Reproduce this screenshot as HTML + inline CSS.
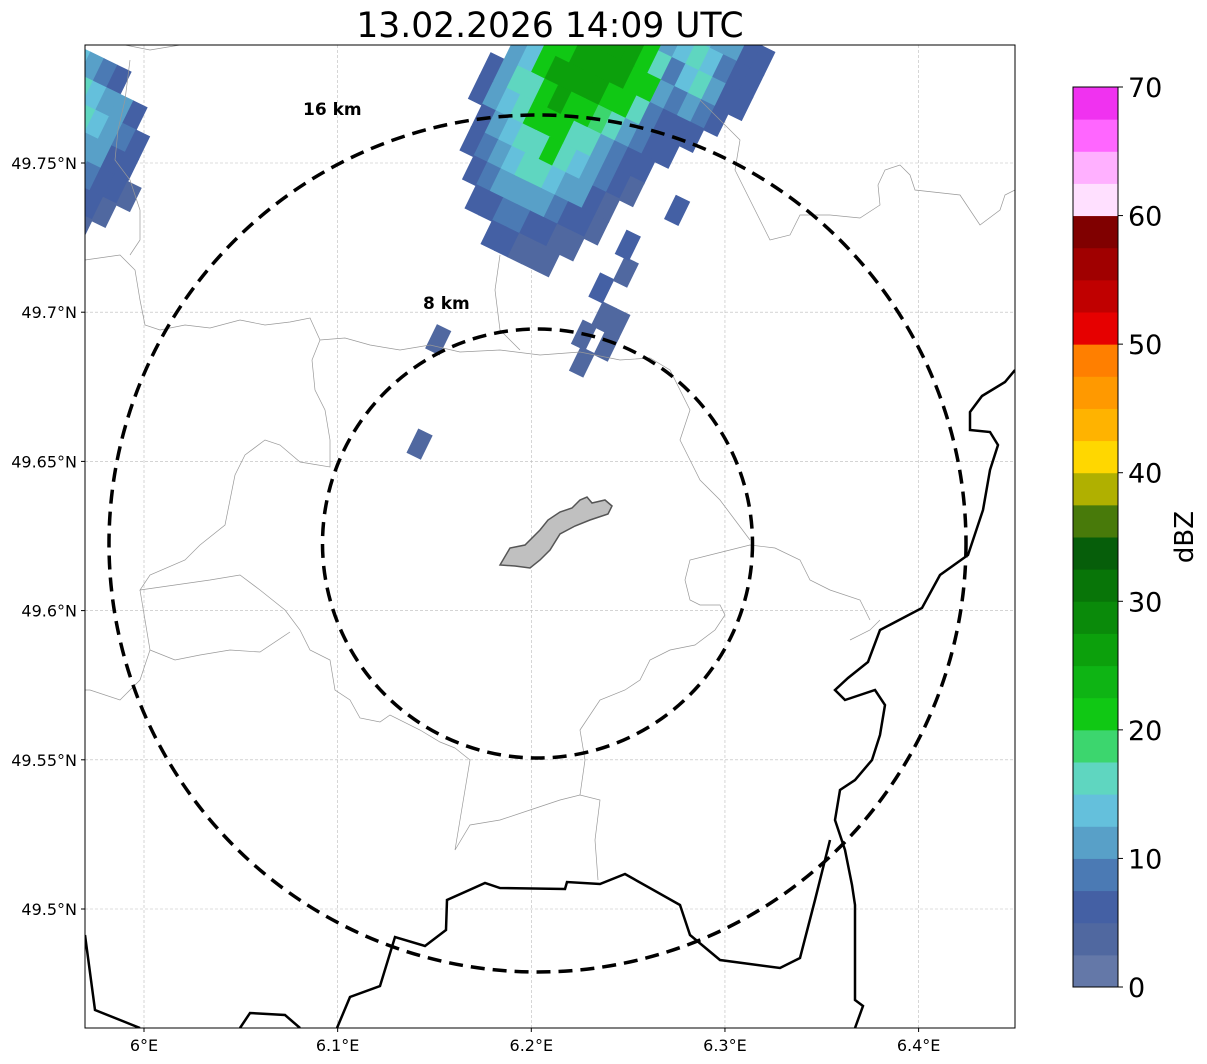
<!DOCTYPE html>
<html><head><meta charset="utf-8"><style>
body{margin:0;background:#fff;}
svg{display:block;font-family:"DejaVu Sans","Liberation Sans",sans-serif;}
</style></head><body>
<svg id="chart" width="1207" height="1064" viewBox="0 0 1207 1064">
<defs><clipPath id="mapclip"><rect x="85" y="45" width="930" height="983"/></clipPath></defs>
<text x="550" y="37" font-size="34.5" text-anchor="middle">13.02.2026 14:09 UTC</text>
<g id="grid"></g>
<g clip-path="url(#mapclip)">
<g id="radar"></g>
<g fill="none" stroke="#999" stroke-width="0.7">
<path d="M85,260 L120,255 L135,270 L140,300 L145,325 L160,330 L185,325 L210,328 L240,320 L265,325 L290,322 L310,318 L320,340 L345,338 L370,345 L400,350 L430,345 L460,352 L500,350 L540,355 L580,352 L620,360 L650,358 L670,370 L680,390 L690,410 L680,440 L690,460 L700,480 L720,500 L735,520 L750,540"/>
<path d="M320,340 L312,360 L315,390 L325,410 L330,440 L330,467 L300,462 L280,445 L265,440 L245,455 L235,475 L230,500 L225,525 L200,545 L185,560 L150,575 L140,590 L175,585 L210,580 L240,575 L260,590 L285,610 L300,630 L310,650 L330,660 L335,690 L350,700 L360,718 L380,722 L390,715 L420,730 L440,742 L455,748"/>
<path d="M140,590 L145,620 L150,650 L140,680 L120,700 L90,690 L85,690"/>
<path d="M150,650 L175,660 L200,655 L230,650 L260,652 L290,632"/>
<path d="M455,748 L470,760 L465,790 L460,820 L455,850 L470,825 L500,820 L530,810 L560,800 L580,795 L600,800 L595,840 L598,880"/>
<path d="M580,795 L585,760 L580,730 L600,700 L625,690 L640,680 L650,660 L670,650 L695,645 L715,630 L725,615 L720,605 L700,605 L690,600 L685,580 L690,560 L710,555 L730,550 L750,545 L775,548 L800,560 L810,580 L830,590 L860,600 L870,620"/>
<path d="M125,45 L150,50 L180,45 M130,60 L125,100 L118,130 L115,160 L130,180 L140,210 L140,240 L130,255"/>
<path d="M500,255 L495,290 L500,330 L520,350"/>
<path d="M700,100 L720,120 L740,140 L735,170 L750,200 L770,240 L790,235 L800,215 L830,215 L860,218 L880,205 L878,185 L885,170 L900,165 L910,175 L915,190 L960,195 L980,225 L1000,210 L1005,195 L1015,190"/>
<path d="M850,640 L870,630 L880,620"/>
</g>
<g fill="none" stroke="#000" stroke-width="2.5">
<path d="M1015,370 L1005,382 L982,396 L970,412 L970,430 L990,432 L998,445 L990,470 L983,510 L968,555 L940,575 L922,608 L880,630 L868,662 L848,678 L835,690 L845,700 L875,690 L885,705 L880,735 L872,760 L855,780 L840,790 L835,820 L845,850 L852,885 L855,905 L855,1000 L863,1006 L855,1028"/>
<path d="M85,935 L95,1010 L140,1028"/>
<path d="M240,1028 L250,1013 L285,1015 L300,1028"/>
<path d="M337,1028 L350,997 L380,986 L395,937 L425,946 L446,930 L447,900 L485,883 L500,888 L565,889 L567,882 L600,884 L625,874 L680,905 L690,935 L720,960 L780,968 L800,958 L815,900 L830,840"/>
</g>
</g>
<path d="M500,565 L510,548 L525,545 L540,530 L548,520 L560,512 L572,508 L580,500 L587,497 L592,503 L605,500 L612,506 L608,514 L590,520 L575,526 L560,534 L550,550 L540,560 L530,568 L515,566 Z" fill="#c0c0c0" stroke="#555" stroke-width="1.5"/>
<g fill="none" stroke="#000" stroke-width="3.5" stroke-dasharray="14,8">
<ellipse cx="537.5" cy="543.5" rx="215" ry="214.5"/>
<ellipse cx="537.5" cy="543.5" rx="428.5" ry="428.5"/>
</g>
<text x="303" y="115" font-size="17" font-weight="bold">16 km</text>
<text x="423" y="309" font-size="17" font-weight="bold">8 km</text>
<rect x="85" y="45" width="930" height="983" fill="none" stroke="#000" stroke-width="1"/>
<g id="axes" font-size="16"></g>
<g id="cbar"></g>
<text transform="translate(1193,537) rotate(-90)" font-size="26" text-anchor="middle">dBZ</text>
</svg>
<script>
const lonTicks=[6.0,6.1,6.2,6.3,6.4];
const lonLabels=["6°E","6.1°E","6.2°E","6.3°E","6.4°E"];
const latTicks=[49.75,49.7,49.65,49.6,49.55,49.5];
const latLabels=["49.75°N","49.7°N","49.65°N","49.6°N","49.55°N","49.5°N"];
const cbarTicks=[0,10,20,30,40,50,60,70];
const cbarColors=["#6478a8","#5068a0","#4460a4","#4b7ab4","#58a0c8","#64c0dc","#5fd6c0","#3cd66e","#10c814","#0eb414","#0ca00c","#0a8a0a","#087508","#065e0a","#487a0a","#b0b000","#ffd700","#ffb300","#ff9900","#ff7f00","#e60000","#c00000","#a00000","#800000","#ffe0ff","#ffb0ff","#ff66ff","#f032f0"];
const mainU=[375,350,325,300,275,250,225,200,175,150,125,100,75];
const mainV=[-210,-195,-180,-165,-150,-135,-120,-105,-90,-75,-60,-45,-30,-15,0,15,30];
const mainVals=[
[0,0,0,0,0,0,12,12,0,0,14,14,12,10,8,6,0],
[0,0,0,0,0,22,22,20,20,14,14,15,14,12,10,6,5],
[0,0,0,0,20,22,25,27,25,20,12,14,15,14,8,6,5],
[0,0,0,17,22,25,27,27,25,22,15,8,14,15,12,6,5],
[0,0,14,20,22,25,27,27,25,22,20,10,8,12,8,5,0],
[0,10,14,20,25,27,25,25,22,20,17,8,6,6,5,0,0],
[6,12,15,17,22,25,22,20,18,15,12,8,5,5,0,0,0],
[5,10,14,15,20,22,20,17,15,12,8,6,5,0,0,0,0],
[0,6,12,14,17,17,20,16,14,12,8,5,4,0,0,0,0],
[0,5,8,12,14,15,16,14,12,10,6,4,0,0,0,0,0],
[0,0,5,8,10,12,12,10,8,6,5,4,0,0,0,0,0],
[0,0,0,5,6,8,8,6,5,4,4,0,0,0,0,0,0],
[0,0,0,0,0,5,5,4,4,3,0,0,0,0,0,0,0]];
const leftU=[50,25,0,-25,-50,-75,-100];
const leftV=[-585,-570,-555,-540,-525,-510,-495,-480,-465];
const leftVals=[
[14,12,8,6,0,0,0,0,0],
[20,17,14,12,10,6,0,0,0],
[22,20,17,14,12,8,5,0,0],
[17,15,14,12,10,6,5,0,0],
[14,12,12,10,8,6,5,4,0],
[10,8,8,6,5,5,4,0,0],
[0,0,6,5,4,4,0,0,0]];
const extraU=[0,25,50,75,100,125,25,50,-43,-145,178];
const extraV=[0,-10,0,-15,0,-10,15,15,-139,-110,19];
const extraVals=[4,3,4,5,4,5,3,4,3,4,5];

const NS="http://www.w3.org/2000/svg";
const X0=85,X1=1015,Y0=45,Y1=1028;
const xLon=lon=>144+(lon-6.0)*1936.5;
const yLat=lat=>163+(49.75-lat)*2984;
const cbY=v=>987-v*(900/70);
const colorFor=v=>cbarColors[Math.min(27,Math.max(0,Math.floor(v/2.5)))];
const ANG=26*Math.PI/180, OX=582, OY=362;
const ux=Math.sin(ANG), uy=-Math.cos(ANG), vx=Math.cos(ANG), vy=Math.sin(ANG);
const px=(u,v)=>OX+u*ux+v*vx;
const py=(u,v)=>OY+u*uy+v*vy;
function mk(t,a,p){const e=document.createElementNS(NS,t);for(const k in a)e.setAttribute(k,a[k]);p.appendChild(e);return e;}
const grid=document.getElementById('grid');
lonTicks.forEach(l=>{const e=mk('line',{x1:xLon(l),x2:xLon(l),y1:Y0,y2:Y1,stroke:'#bbb','stroke-width':0.6,'stroke-dasharray':'3,2'},grid);

});
latTicks.forEach(l=>{const e=mk('line',{x1:X0,x2:X1,y1:yLat(l),y2:yLat(l),stroke:'#bbb','stroke-width':0.6,'stroke-dasharray':'3,2'},grid);

});
const radar=document.getElementById('radar');
function cell(u,v,val){if(!val)return;const cx=px(u,v),cy=py(u,v);
const r=mk('rect',{x:cx-8,y:cy-13.5,width:16,height:27,fill:colorFor(val),transform:`rotate(26 ${cx} ${cy})`},radar);

}
mainU.forEach((u,i)=>mainV.forEach((v,j)=>cell(u,v,mainVals[i][j])));
leftU.forEach((u,i)=>leftV.forEach((v,j)=>cell(u,v,leftVals[i][j])));
extraU.forEach((u,i)=>cell(u,extraV[i],extraVals[i]));
const axes=document.getElementById('axes');
lonTicks.forEach((l,i)=>{mk('line',{x1:xLon(l),x2:xLon(l),y1:Y1,y2:Y1+4,stroke:'#000'},axes);
const t=mk('text',{x:xLon(l),y:Y1+23,'text-anchor':'middle'},axes);t.textContent=lonLabels[i];

});
latTicks.forEach((l,i)=>{mk('line',{x1:X0-4,x2:X0,y1:yLat(l),y2:yLat(l),stroke:'#000'},axes);
const t=mk('text',{x:X0-8,y:yLat(l)+6,'text-anchor':'end'},axes);t.textContent=latLabels[i];

});
const cbar=document.getElementById('cbar');
cbarColors.forEach((c,i)=>{const r=mk('rect',{x:1073,y:cbY((i+1)*2.5),width:45,height:cbY(i*2.5)-cbY((i+1)*2.5)+0.5,fill:c},cbar);

});
mk('rect',{x:1073,y:cbY(70),width:45,height:cbY(0)-cbY(70),fill:'none',stroke:'#000'},cbar);
cbarTicks.forEach(v=>{mk('line',{x1:1118,x2:1123,y1:cbY(v),y2:cbY(v),stroke:'#000'},cbar);
const t=mk('text',{x:1128,y:cbY(v)+10,'font-size':27},cbar);t.textContent=v;

});
</script>
</body></html>
